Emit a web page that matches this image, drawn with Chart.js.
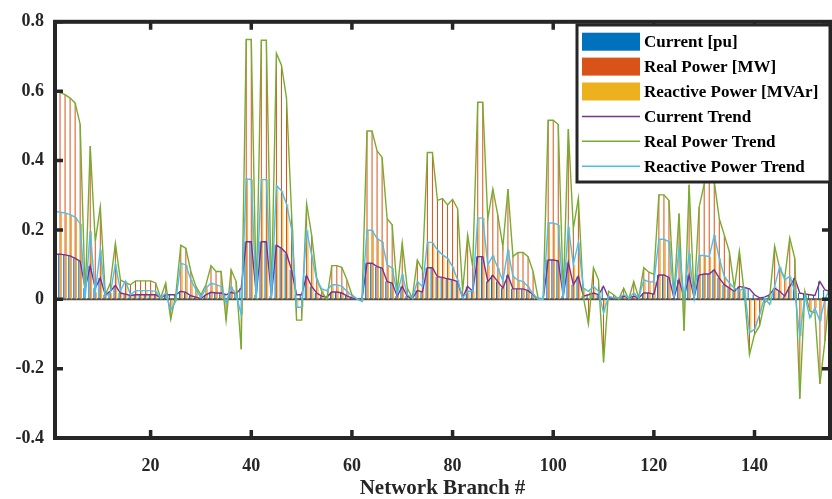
<!DOCTYPE html>
<html>
<head>
<meta charset="utf-8">
<title>Network Branch Flows</title>
<script src="https://cdn.jsdelivr.net/npm/chart.js@4.4.1/dist/chart.umd.min.js"></script>
<style>
  html, body { margin: 0; padding: 0; background: #fff; }
  #wrap { width: 832px; height: 499px; position: relative; }
</style>
</head>
<body>
<div id="wrap"><canvas id="flows"></canvas></div>
<script>
// Per-branch values, branch 1 .. 155.
const currentPu = [
  0.13, 0.13, 0.128, 0.125, 0.118, 0.11, 0.032, 0.096, 0.032, 0.061,
  0.013, 0.023, 0.04, 0.018, 0.015, 0.011, 0.013, 0.013, 0.013, 0.013,
  0.013, 0.004, 0.013, 0.013, 0.013, 0.023, 0.02, 0.01, 0.006, 0.002,
  0.013, 0.02, 0.018, 0.018, 0.013, 0.02, 0.016, 0.032, 0.166, 0.166,
  0.013, 0.166, 0.166, 0.009, 0.156, 0.147, 0.132, 0.085, 0.013, 0.013,
  0.068, 0.037, 0.018, 0.009, 0.006, 0.021, 0.021, 0.018, 0.01, 0.004,
  0.0, 0.0, 0.104, 0.104, 0.094, 0.09, 0.051, 0.047, 0.009, 0.037,
  0.009, 0.002, 0.025, 0.021, 0.091, 0.091, 0.065, 0.063, 0.059, 0.056,
  0.051, 0.004, 0.037, 0.023, 0.123, 0.123, 0.051, 0.069, 0.051, 0.032,
  0.069, 0.03, 0.03, 0.03, 0.025, 0.013, 0.0, 0.0, 0.113, 0.113,
  0.111, 0.009, 0.106, 0.042, 0.066, 0.009, 0.013, 0.018, 0.013, 0.037,
  0.004, 0.004, 0.004, 0.009, 0.004, 0.009, 0.004, 0.018, 0.018, 0.015,
  0.07, 0.07, 0.063, 0.004, 0.056, 0.004, 0.069, 0.004, 0.07, 0.073,
  0.073, 0.085, 0.061, 0.042, 0.032, 0.023, 0.037, 0.034, 0.03, 0.013,
  0.004, 0.006, 0.013, 0.032, 0.023, 0.009, 0.037, 0.061, 0.018, 0.015,
  0.013, 0.011, 0.051, 0.027, 0.023
];
const realPowerMW = [
  0.599, 0.596, 0.59, 0.58, 0.566, 0.504, 0.01, 0.442, 0.166, 0.266,
  0.013, 0.047, 0.161, 0.056, 0.047, 0.042, 0.053, 0.053, 0.053, 0.053,
  0.047, 0.004, 0.047, -0.058, 0.013, 0.156, 0.147, 0.08, 0.037, 0.013,
  0.042, 0.097, 0.08, 0.08, -0.061, 0.085, 0.051, -0.144, 0.749, 0.749,
  0.0, 0.747, 0.747, 0.004, 0.709, 0.675, 0.58, 0.25, -0.06, -0.06,
  0.275, 0.185, 0.061, 0.023, 0.0, 0.097, 0.097, 0.092, 0.056, 0.013,
  0.001, -0.005, 0.485, 0.485, 0.428, 0.409, 0.232, 0.215, 0.023, 0.163,
  0.032, 0.004, 0.113, 0.085, 0.423, 0.423, 0.285, 0.29, 0.272, 0.288,
  0.261, 0.023, 0.185, 0.094, 0.568, 0.568, 0.232, 0.318, 0.242, 0.151,
  0.318, 0.123, 0.135, 0.135, 0.123, 0.08, 0.004, 0.001, 0.516, 0.516,
  0.504, 0.013, 0.491, 0.204, 0.291, 0.005, -0.072, 0.091, 0.056, -0.182,
  0.023, 0.013, 0.0, 0.032, 0.0, 0.051, 0.004, 0.091, 0.078, 0.072,
  0.301, 0.301, 0.285, 0.01, 0.247, -0.091, 0.33, 0.005, 0.266, 0.332,
  0.42, 0.34, 0.232, 0.185, 0.137, 0.032, 0.139, 0.013, -0.16, -0.101,
  -0.077, -0.01, 0.004, 0.153, 0.09, 0.061, 0.177, 0.118, -0.287, 0.023,
  -0.034, -0.039, -0.244, -0.12, 0.035
];
const reactivePowerMVAr = [
  0.254, 0.251, 0.249, 0.244, 0.237, 0.218, 0.004, 0.196, 0.02, 0.142,
  0.009, 0.018, 0.101, 0.025, 0.053, 0.013, 0.025, 0.025, 0.025, 0.025,
  0.023, 0.004, 0.018, -0.03, -0.006, 0.104, 0.099, 0.056, 0.028, 0.004,
  0.032, 0.047, 0.042, 0.037, -0.01, 0.037, 0.013, -0.044, 0.347, 0.345,
  0.004, 0.345, 0.345, 0.004, 0.328, 0.313, 0.275, 0.204, -0.023, -0.023,
  0.199, 0.128, 0.056, 0.03, 0.025, 0.042, 0.042, 0.037, 0.023, 0.01,
  0.001, -0.006, 0.199, 0.199, 0.175, 0.166, 0.099, 0.09, 0.015, 0.072,
  0.013, 0.004, 0.051, 0.037, 0.164, 0.164, 0.142, 0.128, 0.118, 0.094,
  0.056, 0.004, 0.023, 0.023, 0.234, 0.234, 0.099, 0.126, 0.09, 0.053,
  0.142, 0.066, 0.055, 0.051, 0.037, 0.015, 0.0, 0.0, 0.22, 0.22,
  0.215, 0.004, 0.209, 0.1, 0.164, 0.032, 0.023, 0.037, 0.023, -0.039,
  0.009, 0.004, 0.004, 0.013, 0.004, 0.018, 0.004, 0.056, 0.051, 0.05,
  0.173, 0.173, 0.166, 0.004, 0.147, 0.004, 0.132, 0.004, 0.126, 0.126,
  0.123, 0.185, 0.118, 0.066, 0.047, 0.032, 0.025, 0.032, -0.096, -0.087,
  -0.044, 0.004, -0.015, 0.037, 0.094, 0.056, 0.066, 0.023, -0.106, 0.009,
  -0.053, -0.025, -0.063, 0.0, 0.032
];
const xTickValues = [20, 40, 60, 80, 100, 120, 140];
const yTickValues = [-0.4, -0.2, 0, 0.2, 0.4, 0.6, 0.8];
const barNames = ['Current [pu]', 'Real Power [MW]', 'Reactive Power [MVAr]'];
const trendNames = ['Current Trend', 'Real Power Trend', 'Reactive Power Trend'];

// Branch numbers are just the position in the arrays.
const branches = currentPu.map(function (v, i) { return i + 1; });

const barColors = ['#0072BD', '#D95319', '#EDB120'];
const trendColors = ['#7E2F8E', '#77AC30', '#4DBEEE'];
const serif = '"Liberation Serif", "Times New Roman", serif';

// Axis box, inward tick marks, zero baseline and the boxed legend.
const matlabAxes = {
  id: 'matlabAxes',
  beforeDatasetsDraw(chart) {
    const ctx = chart.ctx;
    const a = chart.chartArea;
    const y0 = chart.scales.y.getPixelForValue(0);
    ctx.save();
    ctx.strokeStyle = '#4d4d4d';
    ctx.lineWidth = 2;
    ctx.beginPath();
    ctx.moveTo(a.left, y0);
    ctx.lineTo(a.right, y0);
    ctx.stroke();
    ctx.restore();
  },
  afterDraw(chart) {
    const ctx = chart.ctx;
    const a = chart.chartArea;
    const xs = chart.scales.x;
    const ys = chart.scales.y;
    ctx.save();
    ctx.strokeStyle = '#262626';
    ctx.lineWidth = 4;
    ctx.strokeRect(a.left, a.top, a.right - a.left, a.bottom - a.top);

    ctx.lineWidth = 3.5;
    ctx.beginPath();
    xTickValues.forEach(function (v) {
      const px = xs.getPixelForValue(v);
      ctx.moveTo(px, a.bottom);
      ctx.lineTo(px, a.bottom - 8);
      ctx.moveTo(px, a.top);
      ctx.lineTo(px, a.top + 8);
    });
    yTickValues.forEach(function (v) {
      const py = ys.getPixelForValue(v);
      ctx.moveTo(a.left, py);
      ctx.lineTo(a.left + 8, py);
      ctx.moveTo(a.right, py);
      ctx.lineTo(a.right - 8, py);
    });
    ctx.stroke();

    // Legend box.
    const lx = 577, ly = 25, lw = 253, lh = 157;
    ctx.fillStyle = '#fff';
    ctx.fillRect(lx, ly, lw, lh);
    ctx.lineWidth = 3;
    ctx.strokeStyle = '#262626';
    ctx.strokeRect(lx, ly, lw, lh);

    const names = barNames.concat(trendNames);
    ctx.font = 'bold 17px ' + serif;
    ctx.textBaseline = 'middle';
    ctx.textAlign = 'left';
    names.forEach(function (name, i) {
      const cy = 41.7 + i * 24.9;
      if (i < 3) {
        ctx.fillStyle = barColors[i];
        ctx.fillRect(582, cy - 9, 58, 18);
      } else {
        ctx.strokeStyle = trendColors[i - 3];
        ctx.lineWidth = 1.5;
        ctx.beginPath();
        ctx.moveTo(582, cy);
        ctx.lineTo(640, cy);
        ctx.stroke();
      }
      ctx.fillStyle = '#000';
      ctx.fillText(name, 644, cy + 1);
    });
    ctx.restore();
  }
};

const barSets = [currentPu, realPowerMW, reactivePowerMVAr].map(function (values, i) {
  return {
    type: 'bar',
    label: barNames[i],
    data: values,
    backgroundColor: barColors[i],
    borderWidth: 0,
    categoryPercentage: 0.8,
    barPercentage: 0.75,
    order: 10
  };
});

const trendSets = [currentPu, realPowerMW, reactivePowerMVAr].map(function (values, i) {
  return {
    type: 'line',
    label: trendNames[i],
    data: values,
    borderColor: trendColors[i],
    backgroundColor: trendColors[i],
    borderWidth: 1.4,
    pointRadius: 0,
    tension: 0,
    fill: false,
    order: 3 - i
  };
});

const ctx = document.getElementById('flows').getContext('2d');
const chart = new Chart(ctx, {
  type: 'bar',
  data: {
    labels: branches,
    datasets: barSets.concat(trendSets)
  },
  options: {
    responsive: true,
    maintainAspectRatio: false,
    animation: false,
    layout: { padding: { top: 18, right: 2, left: 0, bottom: 0 } },
    plugins: {
      legend: { display: false },
      tooltip: { enabled: false }
    },
    scales: {
      x: {
        type: 'linear',
        min: 1,
        max: 155,
        offset: false,
        grid: { display: false, drawTicks: false },
        border: { display: false },
        afterBuildTicks: function (scale) {
          scale.ticks = xTickValues.map(function (v) { return { value: v }; });
        },
        afterFit: function (scale) { scale.height = 61; },
        ticks: {
          autoSkip: false,
          maxRotation: 0,
          padding: 18,
          color: '#262626',
          font: { family: serif, size: 18, weight: 'bold' },
          callback: function (v) { return String(v); }
        },
        title: {
          display: true,
          text: 'Network Branch #',
          color: '#262626',
          padding: { top: 0, bottom: 0 },
          font: { family: serif, size: 21, weight: 'bold', lineHeight: 1 }
        }
      },
      y: {
        min: -0.4,
        max: 0.8,
        grid: { display: false, drawTicks: false },
        border: { display: false },
        afterBuildTicks: function (scale) {
          scale.ticks = yTickValues.map(function (v) { return { value: v }; });
        },
        afterFit: function (scale) { scale.width = 55; },
        ticks: {
          padding: 11,
          color: '#262626',
          font: { family: serif, size: 18, weight: 'bold' },
          callback: function (v) { return String(+v.toFixed(1)); }
        }
      }
    }
  },
  plugins: [matlabAxes]
});
</script>
</body>
</html>
